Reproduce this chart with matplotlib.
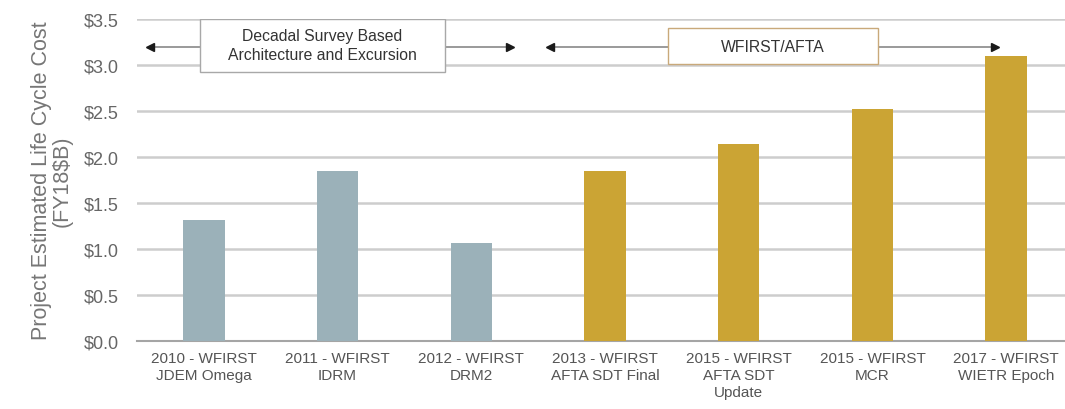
import numpy as np
import matplotlib
matplotlib.use("Agg")
import matplotlib.pyplot as plt
from matplotlib.ticker import FuncFormatter

plt.rcParams['font.family'] = ['Liberation Sans', 'DejaVu Sans']

labels = ["2010 - WFIRST\nJDEM Omega", "2011 - WFIRST\nIDRM", "2012 - WFIRST\nDRM2",
          "2013 - WFIRST\nAFTA SDT Final", "2015 - WFIRST\nAFTA SDT\nUpdate",
          "2015 - WFIRST\nMCR", "2017 - WFIRST\nWIETR Epoch"]
costs = [1.32, 1.85, 1.07, 1.85, 2.14, 2.52, 3.10]
phase = ["ds", "ds", "ds", "wf", "wf", "wf", "wf"]
phase_colors = {"ds": "#9BB1B9", "wf": "#CBA434"}

fig = plt.figure(figsize=(10.65, 4.10), dpi=100)
ax = fig.add_axes([0.1286, 0.166, 0.8714, 0.785])

x = np.arange(len(costs))
ax.bar(x, costs, width=0.31, color=[phase_colors[p] for p in phase], zorder=3)

ax.set_ylim(0, 3.5)
ax.set_xlim(-0.5, 6.44)
ax.set_yticks(np.arange(0, 3.51, 0.5))
ax.yaxis.set_major_formatter(FuncFormatter(lambda v, p: "\\$%.1f" % v))
ax.grid(axis="y", color="#CDCDCD", linewidth=1.8, zorder=0)
ax.set_xticks(x)
ax.set_xticklabels(labels, fontsize=11, color="#555555", linespacing=1.3)
ax.tick_params(axis="both", length=0)
ax.tick_params(axis="y", labelsize=13, labelcolor="#666666", pad=13)
ax.tick_params(axis="x", pad=7)
for s in ["top", "left", "right"]:
    ax.spines[s].set_visible(False)
ax.spines["bottom"].set_color("#A5A5A5")
ax.spines["bottom"].set_linewidth(1.5)

ax.set_ylabel("Project Estimated Life Cycle Cost\n(FY18\\$B)", fontsize=15.5,
              color="#767676", labelpad=8, linespacing=1.0)

# phase arrows: grey shaft, small black head
ay = 3.20
for x0, x1 in [(-0.03, -0.40), (1.80, 2.29), (3.47, 2.59), (5.04, 5.92)]:
    ax.plot([x0, x1], [ay, ay], color="#9A9A9A", lw=1.4, zorder=4)
    ax.plot([x1], [ay], marker="<" if x1 < x0 else ">", color="#1A1A1A",
            markersize=6, zorder=4)

ax.add_patch(plt.Rectangle((-0.03, 2.93), 1.83, 0.57, facecolor="white",
                           edgecolor="#A8A8A8", lw=1.0, zorder=5))
ax.text(0.885, 3.215, "Decadal Survey Based\nArchitecture and Excursion",
        ha="center", va="center", fontsize=11.3, color="#333333", zorder=6,
        linespacing=1.3)
ax.add_patch(plt.Rectangle((3.47, 3.01), 1.57, 0.39, facecolor="white",
                           edgecolor="#C9A97A", lw=1.0, zorder=5))
ax.text(4.255, 3.20, "WFIRST/AFTA", ha="center", va="center", fontsize=11.3,
        color="#333333", zorder=6)

fig.savefig("out.png", dpi=100)
